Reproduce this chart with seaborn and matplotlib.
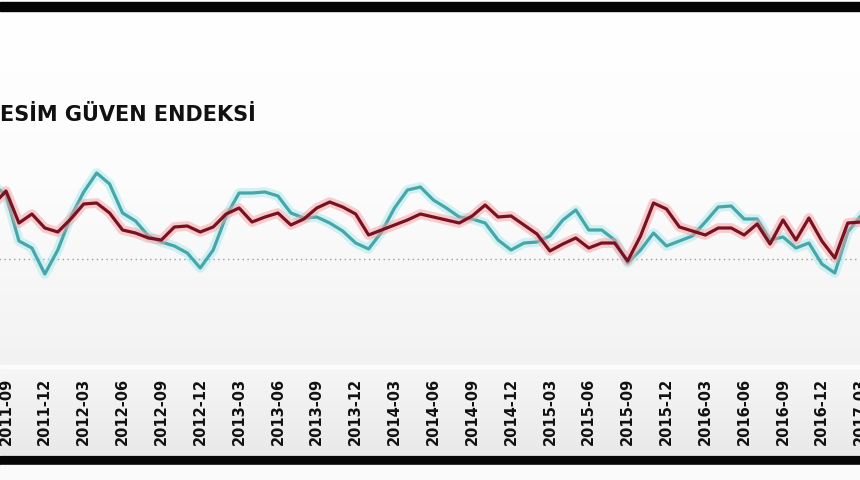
import matplotlib
matplotlib.use('Agg')

import numpy as np
import pandas as pd
import matplotlib.pyplot as plt
import matplotlib.patheffects as pe
import seaborn as sns

# month index: 0 = 2011-09, one step per month, -1 = 2011-08 ... 66 = 2017-03
months = list(range(-1, 67))

# dark red series
red_vals = [110.8, 113.6, 107.2, 109.0, 106.2, 105.4, 108.0, 111.0, 111.2, 109.2,
            105.8, 105.2, 104.2, 103.8, 106.4, 106.6, 105.4, 106.4, 109.0, 110.2,
            107.4, 108.4, 109.2, 106.8, 108.0, 110.2, 111.4, 110.4, 109.0, 104.8,
            105.8, 106.8, 107.8, 109.0, 108.4, 107.8, 107.2, 108.6, 110.8, 108.4,
            108.6, 106.8, 105.0, 101.6, 103.0, 104.2, 102.2, 103.2, 103.2, 99.6,
            104.6, 111.2, 110.0, 106.4, 105.6, 104.8, 106.2, 106.2, 104.8, 107.0,
            103.0, 107.8, 103.8, 108.2, 103.6, 100.2, 107.2, 107.4]

# turquoise series
cyan_vals = [114.8, 112.8, 103.6, 102.2, 97.0, 101.8, 108.4, 113.4, 117.2, 115.0,
             109.2, 107.6, 104.6, 103.4, 102.6, 101.2, 98.2, 101.8, 108.6, 113.2,
             113.2, 113.4, 112.6, 109.2, 108.2, 108.4, 107.2, 105.6, 103.2, 102.0,
             105.4, 110.2, 113.8, 114.4, 111.8, 110.2, 108.4, 108.0, 107.2, 103.8,
             101.8, 103.2, 103.4, 104.6, 107.8, 109.8, 105.8, 105.8, 103.8, 99.2,
             101.8, 105.2, 102.6, 103.6, 104.6, 107.4, 110.4, 110.6, 108.0, 108.0,
             103.8, 104.4, 102.2, 103.2, 99.0, 97.2, 105.4, 108.6]

tick_pos = list(range(0, 67, 3))
tick_labels = ['2011-09', '2011-12', '2012-03', '2012-06', '2012-09', '2012-12',
               '2013-03', '2013-06', '2013-09', '2013-12', '2014-03', '2014-06',
               '2014-09', '2014-12', '2015-03', '2015-06', '2015-09', '2015-12',
               '2016-03', '2016-06', '2016-09', '2016-12', '2017-03']

ref_level = 100
title = 'ESİM GÜVEN ENDEKSİ'

df = pd.DataFrame({
    'ay': months * 2,
    'deger': red_vals + cyan_vals,
    'seri': ['Endeks'] * len(months) + ['Mevsimsellikten arındırılmış'] * len(months),
})

W, H = 860, 480
fig = plt.figure(figsize=(W / 100, H / 100), dpi=100)

# background: white to light grey, label band, black frame lines
bg = fig.add_axes([0, 0, 1, 1], zorder=0)
bg.set_xlim(0, W)
bg.set_ylim(H, 0)
grad = np.linspace(0, 1, 256).reshape(-1, 1)
bg.imshow(grad, extent=(0, W, 365, 12), cmap=matplotlib.colors.LinearSegmentedColormap.from_list(
    'g1', ['#ffffff', '#fcfcfc', '#f2f2f2']), aspect='auto')
bg.imshow(grad, extent=(0, W, 455, 366), cmap=matplotlib.colors.LinearSegmentedColormap.from_list(
    'g2', ['#f6f6f6', '#f0f0f0', '#e9e9e9']), aspect='auto')
bg.axhspan(365, 368, color='#fdfdfd')
bg.axhspan(2, 11, color='#050505')
bg.axhspan(456, 465, color='#050505')
bg.axhspan(465, 480, color='#fafafa')
bg.axis('off')

# main axes, stretched a bit past the picture edges (the source is cropped)
x0, x1 = -20, 880
ax = fig.add_axes([x0 / W, (H - 365) / H, (x1 - x0) / W, 345 / H], zorder=1)
ax.patch.set_alpha(0)

sns.lineplot(data=df, x='ay', y='deger', hue='seri', hue_order=['Mevsimsellikten arındırılmış', 'Endeks'],
             palette=['#46a7ab', '#7a1020'], linewidth=2.3, legend=False, ax=ax)

glows = ['#a8e8ec', '#f3a0a0']
for line, glow in zip(ax.lines, glows):
    line.set_path_effects([pe.Stroke(linewidth=7, foreground=glow, alpha=0.5), pe.Normal()])

ax.axhline(ref_level, color='#9a9a9a', linestyle=(0, (1, 2.5)), linewidth=1.0, zorder=0)

# px = 6 + 12.95 * month
ax.set_xlim((x0 - 6) / 12.95, (x1 - 6) / 12.95)
ax.set_ylim(100 + (259 - 365) * 0.2, 100 + (259 - 20) * 0.2)
ax.set_xticks(tick_pos)
ax.set_xticklabels(tick_labels, rotation=90, fontsize=10.5, fontweight='bold', color='#111111',
                   family=['DejaVu Sans'])
ax.tick_params(axis='x', length=0, pad=9)
ax.set_yticks([])
ax.set_xlabel('')
ax.set_ylabel('')
for s in ax.spines.values():
    s.set_visible(False)

fig.text(0, 1 - 121 / H, title, fontsize=15, fontweight='bold', color='#111111',
         family=['DejaVu Sans'], ha='left', va='baseline')

fig.savefig('out.png', dpi=100)
